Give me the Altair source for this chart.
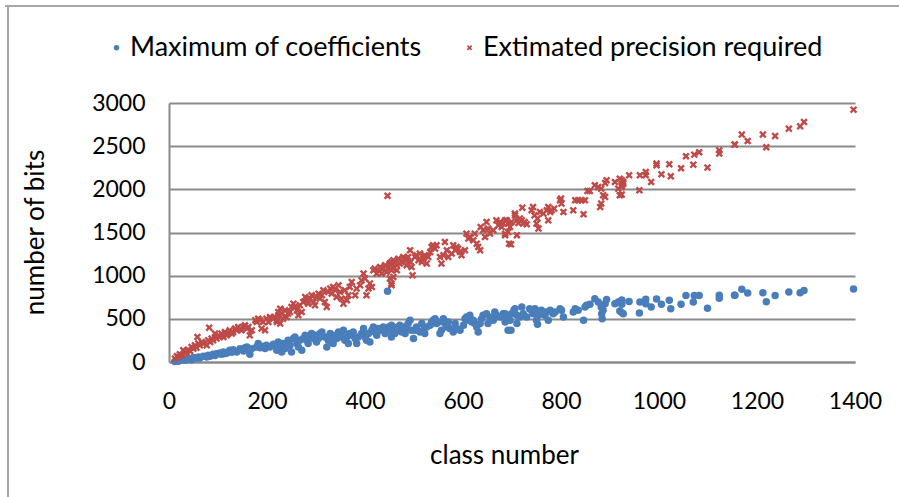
import altair as alt
import pandas as pd

# ---- data ----
blue_x = [12, 16, 19, 22, 29, 33, 36, 43, 46, 50, 56, 60, 63, 70, 77, 80, 84, 90, 94, 97,
          104, 107, 111, 114, 118, 124, 128, 131, 138, 145, 152, 155, 159, 162, 165, 169, 179, 182, 186, 192,
          196, 199, 206, 213, 220, 223,
          216, 220, 223, 227, 230, 233, 237, 243, 247, 250, 254, 257, 261, 264, 267, 271, 274, 278, 281, 284,
          288, 291, 295, 298, 301, 305, 308, 312, 318, 322, 325, 329, 332, 335, 339, 342, 346, 349, 352, 356,
          359, 363, 366, 369, 373, 376, 380, 383, 386, 393, 397, 400, 403, 407, 410, 414, 417, 420, 424, 427,
          434, 437, 441, 444, 446, 448, 451, 454, 458,
          451, 454, 458, 461, 465, 468, 471, 475, 478, 482, 485, 488, 492, 495, 499, 502, 505, 512, 516, 519,
          522, 526, 533, 536, 539, 543, 546, 550, 553, 556, 560, 563, 567, 570, 573, 580, 584, 587, 594, 601,
          604, 607, 611, 614, 618, 621, 624, 628, 631, 635, 638, 641, 648, 651, 655, 662, 665, 668, 676, 682,
          686, 689, 692,
          686, 692, 696, 699, 704, 706, 710, 698, 710, 716, 720, 723, 730, 736, 740, 743, 747, 750, 752, 754,
          757, 760, 767, 771, 774, 778, 784, 788, 798, 801, 805, 825, 829, 835, 846, 849, 852, 859, 869, 876,
          882, 883, 884, 886, 890, 893, 910, 917, 920, 924, 927,
          924, 924, 924, 924, 939, 960, 961, 973, 973, 984, 995, 1005, 1021, 1024, 1045, 1055, 1070, 1072, 1082, 1099,
          1123, 1123, 1154,
          1155, 1169, 1181, 1212, 1219, 1237, 1265, 1288, 1296, 1397]
blue_y = [5, 12, 8, 20, 27, 20, 35, 39, 27, 51, 43, 58, 46, 66, 58, 78, 66, 89, 74, 97,
          104, 89, 116, 97, 104, 136, 112, 143, 116, 155, 128, 166, 174, 143, 89, 155, 174, 213, 166, 182,
          155, 193, 174, 205, 193, 213,
          193, 136, 232, 174, 116, 213, 155, 251, 193, 116, 271, 290, 213, 174, 251, 136, 271, 309, 251, 213,
          290, 329, 271, 309, 232, 271, 329, 348, 290, 174, 251, 329, 290, 213, 309, 271, 348, 290, 329, 367,
          251, 290, 213, 329, 309, 348, 271, 213, 290, 329, 387, 290, 251, 329, 232, 367, 405, 348, 309, 387,
          367, 405, 329, 387, 819, 405, 405, 425, 329,
          367, 290, 405, 329, 387, 367, 425, 348, 405, 329, 387, 445, 483, 367, 271, 367, 405, 348, 445, 367,
          329, 405, 425, 463, 483, 502, 445, 463, 329, 367, 502, 445, 405, 463, 387, 348, 445, 387, 367, 425,
          502, 521, 483, 541, 463, 483, 445, 405, 348, 445, 502, 541, 560, 445, 521, 483, 579, 541, 521, 560,
          463, 502, 367,
          560, 521, 483, 560, 599, 618, 541, 367, 445, 521, 637, 560, 521, 618, 599, 560, 618, 483, 437, 541,
          560, 599, 541, 579, 483, 599, 560, 579, 618, 599, 521, 579, 618, 599, 483, 637, 657, 668, 734, 695,
          637, 560, 502, 599, 676, 723, 676, 695, 591, 715, 560,
          715, 695, 668, 572, 700, 568, 695, 726, 676, 637, 730, 668, 715, 618, 668, 769, 695, 769, 769, 622,
          738, 773, 773,
          773, 842, 799, 803, 699, 769, 811, 803, 827, 846]

red_x = [12, 16, 19, 22, 26, 29, 33, 36, 39, 43, 46, 50, 53, 56, 60, 63, 67, 70, 77, 80,
         84, 87, 90, 94, 97, 101, 104, 107, 111, 114, 118, 121, 124, 128, 131, 135, 138, 141, 145, 148,
         152, 155, 159, 162, 165, 169, 176, 179, 182, 186, 189, 192, 196, 199, 203, 206, 213, 220, 223, 82,
         58, 94,
         216, 220, 223, 227, 230, 233, 227, 237, 240, 243, 247, 250, 254, 257, 261, 264, 267, 271, 274, 278,
         281, 284, 288, 291, 295, 298, 301, 305, 308, 312, 315, 318, 322, 325, 329, 332, 335, 339, 342, 346,
         349, 352, 356, 359, 363, 366, 369, 373, 380, 383, 390, 393, 397, 400, 403, 407, 410, 414, 417, 420,
         424, 427, 431, 434, 437, 441, 444, 448, 451, 454, 458, 454, 458, 446,
         451, 454, 458, 461, 465, 468, 471, 475, 478, 482, 485, 488, 492, 493, 495, 497, 454, 451, 458, 465,
         485, 502, 505, 509, 512, 516, 519, 522, 526, 529, 533, 536, 539, 543, 546, 553, 556, 560, 563, 567,
         570, 577, 580, 584, 587, 590, 594, 597, 604, 607, 611, 614, 621, 624, 628, 631, 635, 636, 641, 645,
         648, 651, 655, 662, 668, 672, 676, 679, 682, 686, 689, 692, 694,
         686, 692, 696, 699, 706, 710, 713, 716, 720, 723, 726, 730, 721, 706, 692, 686, 710, 698, 740, 743,
         746, 750, 754, 752, 757, 764, 771, 774, 778, 781, 786, 774, 798, 801, 805, 800, 825, 829, 835, 842,
         849, 846, 854, 859, 869, 876, 882, 886, 890, 880, 882, 893, 890, 910, 920, 924, 920, 917, 927,
         924, 927, 924, 924, 939, 960, 961, 973, 973, 984, 995, 995, 1005, 1021, 1024, 1045, 1055, 1070, 1072, 1082,
         1099, 1123, 1123, 1154,
         1155, 1169, 1181, 1212, 1219, 1237, 1265, 1288, 1296, 1397]
red_y = [39, 66, 58, 89, 78, 136, 97, 116, 143, 128, 174, 155, 193, 166, 213, 193, 232, 213, 193, 251,
         232, 271, 251, 290, 271, 309, 290, 329, 290, 348, 309, 329, 367, 329, 348, 387, 367, 405, 387, 367,
         405, 425, 387, 405, 309, 367, 483, 463, 502, 483, 387, 463, 367, 502, 463, 521, 502, 483, 541, 398,
         290, 329,
         521, 463, 579, 618, 560, 502, 445, 599, 521, 560, 579, 637, 676, 637, 599, 541, 657, 579, 695, 753,
         715, 676, 734, 773, 695, 657, 753, 792, 734, 773, 831, 695, 637, 811, 850, 792, 869, 831, 753, 888,
         811, 734, 676, 831, 715, 773, 869, 927, 773, 850, 888, 946, 1024, 966, 773, 850, 908, 869, 1062, 1082,
         1024, 1062, 1100, 1024, 1082, 1120, 1043, 1100, 1140, 1158, 1178, 888, 1082, 1925,
         1140, 1062, 1100, 1158, 1120, 1197, 1140, 1158, 1216, 1178, 1197, 1216, 1294, 1158, 1100, 1004, 908, 966, 985, 1062,
         1120, 1216, 1236, 1178, 1256, 1158, 1197, 1236, 1140, 1216, 1274, 1332, 1352, 1313, 1352, 1216, 1140, 1236, 1390, 1294,
         1216, 1256, 1352, 1294, 1332, 1313, 1274, 1236, 1294, 1487, 1429, 1448, 1410, 1487, 1371, 1332, 1294, 1564, 1526, 1448,
         1622, 1545, 1487, 1526, 1641, 1583, 1622, 1564, 1603, 1487, 1641, 1603, 1371,
         1641, 1603, 1564, 1622, 1699, 1641, 1610, 1661, 1641, 1603, 1622, 1595, 1788, 1719, 1506, 1468, 1468, 1363, 1757, 1795,
         1699, 1603, 1545, 1661, 1738, 1719, 1757, 1795, 1738, 1757, 1777, 1641, 1873, 1835, 1738, 1893, 1757, 1873, 1873, 1873,
         1873, 1711, 1981, 1981, 2047, 2027, 2008, 1931, 1912, 1795, 1835, 2105, 2074, 2085, 2124, 2047, 1931, 2008, 2085,
         2105, 2066, 2027, 1939, 2163, 1989, 2163, 2201, 2163, 2085, 2278, 2298, 2174, 2290, 2151, 2244, 2383, 2286, 2402, 2429,
         2252, 2414, 2452, 2518,
         2518, 2634, 2560, 2634, 2487, 2618, 2703, 2730, 2780, 2923]

series_names = ["Maximum of coefficients", "Extimated precision required"]
series_colors = ["#4A7EBB", "#BE4B48"]
x_ticks = [0, 200, 400, 600, 800, 1000, 1200, 1400]
y_ticks = [0, 500, 1000, 1500, 2000, 2500, 3000]

df = pd.DataFrame({
    "x": blue_x + red_x,
    "y": blue_y + red_y,
    "series": [series_names[0]] * len(blue_x) + [series_names[1]] * len(red_x),
})

X_PATH = ("M-0.55,-1L0,-0.45L0.55,-1L1,-0.55L0.45,0L1,0.55L0.55,1L0,0.45"
          "L-0.55,1L-1,0.55L-0.45,0L-1,-0.55Z")

FONT = "Lato"
GRID = "#8a8a8a"

leg = alt.Legend(
    title=None, orient="none", direction="horizontal",
    legendX=-66, legendY=-69, padding=0,
    labelFont=FONT, labelFontSize=27, labelColor="#000000", labelLimit=0,
    labelOffset=0, columnPadding=34, symbolSize=30, symbolStrokeWidth=0,
)

points = alt.Chart(df).mark_point(filled=True, opacity=1, size=56).encode(
    x=alt.X("x:Q", scale=alt.Scale(domain=[0, 1400], nice=False),
            axis=alt.Axis(values=x_ticks, format="d", title="class number", grid=False,
                          ticks=False, tickSize=0, domainColor=GRID, domainWidth=2,
                          labelFont=FONT, labelFontSize=23, labelColor="#000000",
                          labelPadding=28, labelFlush=False,
                          titleFont=FONT, titleFontSize=26, titleFontWeight="normal",
                          titleColor="#000000", titleX=335, titleY=93,
                          titleBaseline="middle", titleAlign="center")),
    y=alt.Y("y:Q", scale=alt.Scale(domain=[0, 3000], nice=False),
            axis=alt.Axis(values=y_ticks, format="d", title="number of bits", grid=True,
                          gridColor=GRID, gridWidth=2, ticks=False, tickSize=0,
                          domainColor=GRID, domainWidth=2,
                          labelFont=FONT, labelFontSize=23, labelColor="#000000",
                          labelPadding=24,
                          titleFont=FONT, titleFontSize=26, titleFontWeight="normal",
                          titleColor="#000000", titleX=-134, titleY=129,
                          titleAngle=270, titleBaseline="middle", titleAlign="center")),
    color=alt.Color("series:N", scale=alt.Scale(domain=series_names, range=series_colors), legend=leg),
    shape=alt.Shape("series:N", scale=alt.Scale(domain=series_names, range=["circle", X_PATH]), legend=leg),
)

frame = pd.DataFrame({"k": [0]})
top_border = alt.Chart(frame).mark_rule(color="#a6a6a6", strokeWidth=2).encode(
    x=alt.value(-164), x2=alt.value(730), y=alt.value(-97))
left_border = alt.Chart(frame).mark_rule(color="#a6a6a6", strokeWidth=2).encode(
    x=alt.value(-161), y=alt.value(-97), y2=alt.value(394))

chart = alt.layer(top_border, left_border, points).properties(
    width=686, height=259,
    padding={"left": 169, "top": 103, "right": 44, "bottom": 135},
    autosize=alt.AutoSizeParams(type="none"),
    background="white",
).configure_view(stroke=None)

chart.save("out.html", embed_options={"renderer": "svg", "actions": False})
